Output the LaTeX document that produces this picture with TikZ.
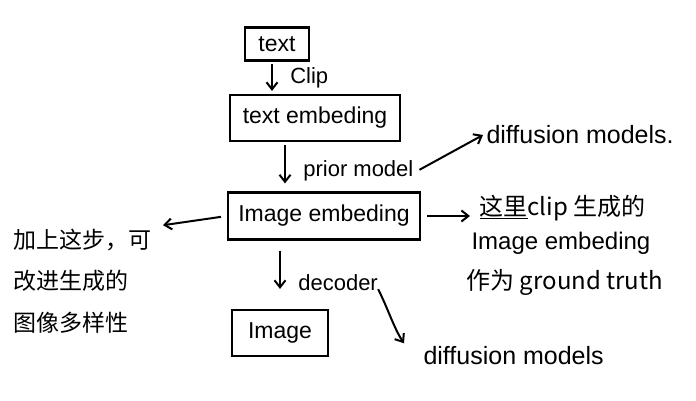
\documentclass[tikz,border=0pt]{standalone}
\usepackage{fontspec}
\setmainfont{Liberation Sans}
\newfontfamily\cjk{Noto Sans CJK SC}
\usetikzlibrary{arrows.meta,positioning}

\begin{document}
\begin{tikzpicture}[
    x=1pt, y=-1pt,
    % 定義方框樣式
    stagebox/.style={
        draw=black,
        line width=2.2pt,
        fill=white,
        align=center,
        font=\fontsize{23}{27}\selectfont,
        inner sep=3pt
    },
    % 定義箭頭旁文字樣式
    steplabel/.style={
        font=\fontsize{22}{26}\selectfont,
        anchor=west
    },
    % 定義註解文字樣式
    notetext/.style={
        font=\fontsize{24}{28}\selectfont,
        anchor=west
    },
    cjknote/.style={
        font=\cjk\fontsize{23}{26}\selectfont,
        anchor=west
    },
    % 定義箭頭樣式
    flow/.style={
        -{Straight Barb[length=7pt,width=11pt]},
        line width=2pt
    }
]
    \useasboundingbox (0,0) rectangle (696,401);

    % --- 1. 方框 (Boxes) ---
    \node[stagebox, minimum width=64pt, minimum height=33pt] (txt) at (277,44) {text};
    \node[stagebox, minimum width=170pt, minimum height=46pt] (temb) at (315,118) {text embeding};
    \node[stagebox, minimum width=192pt, minimum height=47pt] (iemb) at (324,216) {Image embeding};
    \node[stagebox, minimum width=96pt, minimum height=46pt] (img) at (280,333) {Image};

    % --- 2. 縱向箭頭 (Arrows) ---
    \draw[flow, shorten <=2pt, shorten >=3pt] ([xshift=-5pt]txt.south) -- ([xshift=-5pt]txt.south |- temb.north)
        node[steplabel, midway, xshift=14pt] (clip) {Clip};
    \draw[flow, shorten <=3pt, shorten >=8pt] ([xshift=-30pt]temb.south) -- ([xshift=-30pt]temb.south |- iemb.north)
        node[steplabel, midway, xshift=14pt, yshift=-4pt] (prior) {prior model};
    \draw[flow, shorten <=10pt, shorten >=20pt] (img.north |- iemb.south) -- (img.north)
        node[steplabel, midway, xshift=14pt, yshift=-8pt] (dec) {decoder};

    % --- 3. 右側文字 (Notes) ---
    \node[notetext, font=\fontsize{25}{29}\selectfont] (diffa) at (483,135) {diffusion models.};
    \node[notetext, font=\fontsize{25}{29}\selectfont] (diffb) at (420,356) {diffusion models};

    \node[cjknote, font=\cjk\fontsize{24}{28}\selectfont] (r1) at (476,208) {\underline{这里}clip 生成的};
    \node[notetext] (r2) at (468,243) {Image embeding};
    \node[cjknote, font=\cjk\fontsize{24}{28}\selectfont] (r3) at (463,282) {作为 ground truth};

    % --- 4. 左側文字 ---
    \node[cjknote] (l1) at (10,240) {加上这步，可};
    \node[cjknote] (l2) at (10,281) {改进生成的};
    \node[cjknote] (l3) at (10,323) {图像多样性};

    % --- 5. 註解箭頭 ---
    \draw[flow, shorten <=2pt] (prior.east) -- (diffa.west);
    \draw[flow, shorten <=6pt, shorten >=2pt] (iemb.west) -- ([xshift=6pt]l1.north east);
    \draw[flow, shorten <=6pt, shorten >=6pt] (iemb.east) -- (iemb.east -| r1.west);
    \draw[flow] ([xshift=-4pt,yshift=6pt]dec.south east) .. controls +(10,20) and +(-10,-15) .. ([xshift=-16pt]diffb.north west);

\end{tikzpicture}
\end{document}
